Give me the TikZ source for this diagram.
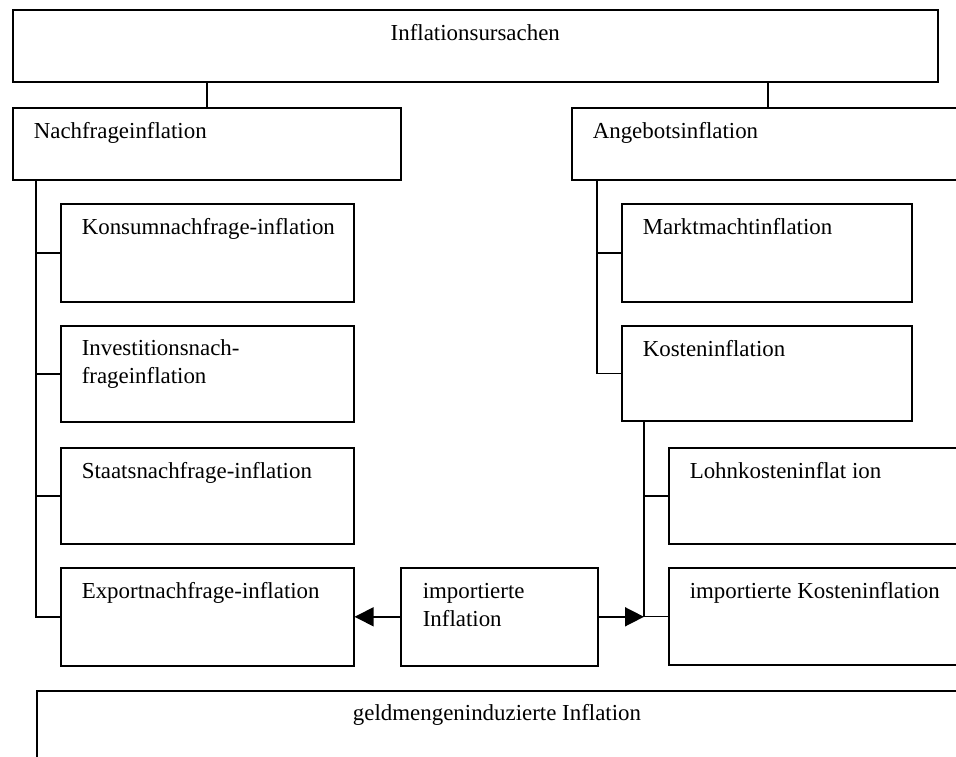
\documentclass[tikz,border=0pt]{standalone}
\usepackage{fontspec}
\setmainfont{Liberation Serif}
\usetikzlibrary{arrows.meta}
\begin{document}
\begin{tikzpicture}[x=1pt,y=-1pt,line width=1.6pt,
  box/.style={draw, rectangle, inner sep=0pt, anchor=north west},
  txt/.style={anchor=base west, inner sep=0pt, font=\fontsize{22.9}{28}\selectfont, align=left},
  ctxt/.style={anchor=base, inner sep=0pt, font=\fontsize{22.9}{28}\selectfont},
  arr/.style={-{Triangle[length=19pt,width=19pt]}}]
\useasboundingbox (0,0) rectangle (956,756);
\clip (0,0) rectangle (956,756);
% boxes
\node[box, minimum width=925pt, minimum height=72pt] (top) at (12,9) {};
\node[box, minimum width=388pt, minimum height=72pt] (nach) at (12,107) {};
\node[box, minimum width=392pt, minimum height=72pt] (ang) at (571,107) {};
\node[box, minimum width=293pt, minimum height=98pt] (kons) at (60,203) {};
\node[box, minimum width=293pt, minimum height=96pt] (inv) at (60,325) {};
\node[box, minimum width=293pt, minimum height=96pt] (staat) at (60,447) {};
\node[box, minimum width=293pt, minimum height=98pt] (exp) at (60,567) {};
\node[box, minimum width=290pt, minimum height=98pt] (markt) at (621,203) {};
\node[box, minimum width=290pt, minimum height=95pt] (kost) at (621,325) {};
\node[box, minimum width=300pt, minimum height=96pt] (lohn) at (668,447) {};
\node[box, minimum width=300pt, minimum height=97pt] (impk) at (668,567) {};
\node[box, minimum width=197pt, minimum height=98pt] (impi) at (400,567) {};
\node[box, minimum width=930pt, minimum height=100pt] (geld) at (36,690) {};
% texts
\node[ctxt] (topt) at ([yshift=-31pt]top.north) {Inflationsursachen};
\node[txt] (nacht) at ([shift={(21,31)}]nach.north west) {Nachfrageinflation};
\node[txt] (angt) at ([shift={(21,31)}]ang.north west) {Angebotsinflation};
\node[txt] (konst) at ([shift={(21,31)}]kons.north west) {Konsumnachfrage-inflation};
\node[txt] (invt) at ([shift={(21,58)}]inv.north west) {Investitionsnach-\\frageinflation};
\node[txt] (staatt) at ([shift={(21,31)}]staat.north west) {Staatsnachfrage-inflation};
\node[txt] (expt) at ([shift={(21,31)}]exp.north west) {Exportnachfrage-inflation};
\node[txt] (marktt) at ([shift={(21,31)}]markt.north west) {Marktmachtinflation};
\node[txt] (kostt) at ([shift={(21,31)}]kost.north west) {Kosteninflation};
\node[txt] (lohnt) at ([shift={(21,31)}]lohn.north west) {Lohnkosteninflat ion};
\node[txt] (impkt) at ([shift={(21,31)}]impk.north west) {importierte Kosteninflation};
\node[txt] (impit) at ([shift={(22,59)}]impi.north west) {importierte\\Inflation};
\node[ctxt] (geldt) at ([shift={(461,30)}]geld.north west) {geldmengeninduzierte Inflation};
% connectors
\coordinate (tl) at ([xshift=24pt]nach.south west);
\coordinate (tr) at ([xshift=26pt]ang.south west);
\coordinate (tk) at ([xshift=23pt]kost.south west);
\draw (top.south -| nach.north) -- (nach.north);
\draw (top.south -| ang.north) -- (ang.north);
\draw (tl) |- (exp.west);
\draw (tl |- kons.west) -- (kons.west);
\draw (tl |- inv.west) -- (inv.west);
\draw (tl |- staat.west) -- (staat.west);
\draw (tr) |- (kost.west);
\draw (tr |- markt.west) -- (markt.west);
\draw (tk) |- (impk.west);
\draw (tk |- lohn.west) -- (lohn.west);
\draw[arr] (impi.west) -- (exp.east |- impi.west);
\draw[arr] (impi.east) -- (tk |- impi.east);
\end{tikzpicture}
\end{document}
